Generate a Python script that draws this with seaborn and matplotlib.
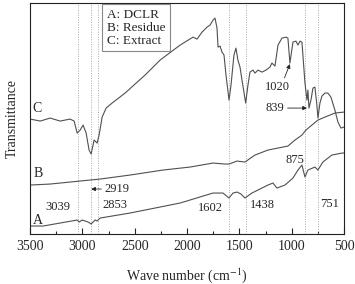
import matplotlib
matplotlib.use("Agg")
from matplotlib import pyplot as plt
import seaborn as sns
import pandas as pd

# curve C: extract
c_wn = [3500, 3404, 3309, 3213, 3118, 3080, 3051, 3022, 2994, 2965, 2937, 2917, 2889, 2860, 2841,
        2812, 2774, 2717, 2593, 2402, 2258, 2067, 1943, 1905, 1857, 1809, 1781, 1752, 1733, 1714,
        1704, 1685, 1666, 1647, 1628, 1599, 1580, 1552, 1533, 1514, 1494, 1475, 1440, 1418, 1399,
        1370, 1351, 1322, 1284, 1246, 1208, 1189, 1160, 1131, 1093, 1055, 1036, 1017, 988, 959,
        940, 921, 902, 873, 854, 845, 835, 816, 797, 778, 759, 749, 730, 711, 682, 654, 625, 587,
        558, 529, 500]
c_t = [115, 113, 116, 113, 115, 113, 101, 104, 109, 101, 84, 80, 94, 91, 99,
       117, 126, 131, 141, 159, 174, 189, 197, 195, 202, 207, 209, 214, 216, 206,
       187, 188, 182, 179, 159, 134, 149, 179, 186, 174, 167, 154, 131, 149, 162,
       164, 161, 164, 162, 164, 167, 171, 168, 189, 196, 197, 196, 171, 192, 193,
       189, 193, 192, 151, 134, 144, 126, 134, 146, 147, 129, 116, 131, 138, 141, 141, 137, 124,
       112, 106, 107]

# curve B: residue
b_wn = [3500, 3309, 2831, 2545, 2230, 1972, 1752, 1638, 1599, 1523, 1447, 1351, 1227, 1036,
        969, 902, 864, 807, 749, 682, 587, 500]
b_t = [49, 50, 55, 59, 64, 67, 71, 70, 70, 73, 72, 79, 84, 88,
       94, 99, 104, 109, 114, 117, 121, 122]

# curve A: DCLR
a_wn = [3500, 3376, 3213, 3051, 3032, 3003, 2946, 2917, 2879, 2860, 2831, 2545, 2067, 1752,
        1657, 1599, 1561, 1523, 1485, 1447, 1380, 1227, 1179, 1141, 1064, 988, 940, 902, 873,
        845, 778, 749, 702, 616, 520, 500]
a_t = [8, 8, 11, 14, 12, 14, 12, 10, 14, 13, 16, 21, 31, 41,
       41, 36, 41, 42, 40, 36, 41, 49, 51, 46, 49, 56, 64, 69, 57,
       64, 67, 64, 72, 79, 81, 81]

marked = [3039, 2919, 2853, 1602, 1438, 875, 751]

sns.set_style("ticks")
plt.rcParams['font.family'] = ['Liberation Serif', 'DejaVu Serif']
plt.rcParams['mathtext.fontset'] = 'stix'

fig, ax = plt.subplots(figsize=(3.55, 2.84), dpi=100)
fig.subplots_adjust(left=0.085, right=0.969, top=0.989, bottom=0.176)

for wn in marked:
    ax.axvline(wn, color='#aaaaaa', lw=0.7, ls=(0, (1, 1.5)), zorder=1)

col = '#505050'
sns.lineplot(x=c_wn, y=c_t, ax=ax, color=col, lw=0.8, sort=False)
sns.lineplot(x=b_wn, y=b_t, ax=ax, color=col, lw=0.8, sort=False)
sns.lineplot(x=a_wn, y=a_t, ax=ax, color=col, lw=0.8, sort=False)

ax.set_xlim(3500, 500)
ax.set_ylim(0, 231)
ax.set_xticks([3500, 3000, 2500, 2000, 1500, 1000, 500])
ax.set_xticks([3250, 2750, 2250, 1750, 1250, 750], minor=True)
ax.set_yticks([])
ax.tick_params(axis='x', direction='in', length=4, width=0.8, labelsize=10, pad=4)
ax.tick_params(axis='x', which='minor', direction='in', length=2.5, width=0.8)
for s in ax.spines.values():
    s.set_linewidth(0.8)
    s.set_color('#222222')

ax.set_xlabel("Wave number (cm$^{-1}$)", fontsize=10, labelpad=10)
ax.set_ylabel("Transmittance", fontsize=10, labelpad=8)

fs = 9
ax.text(3433, 126, "C", fontsize=10, ha='center', va='center')
ax.text(3424, 61, "B", fontsize=10, ha='center', va='center')
ax.text(3424, 14, "A", fontsize=10, ha='center', va='center')
ax.text(3233, 27, "3039", fontsize=fs, ha='center', va='center')
ax.text(2688, 29, "2853", fontsize=fs, ha='center', va='center')
ax.text(1781, 26, "1602", fontsize=fs, ha='center', va='center')
ax.text(1284, 29, "1438", fontsize=fs, ha='center', va='center')
ax.text(635, 30, "751", fontsize=fs, ha='center', va='center')
ax.text(969, 74, "875", fontsize=fs, ha='center', va='center')

arr = dict(arrowstyle='-|>', color='#222222', lw=0.6, mutation_scale=6, shrinkA=0, shrinkB=0)
ax.annotate("2919", xy=(2917, 45), xytext=(2669, 45), fontsize=fs, ha='center', va='center',
            arrowprops=dict(arr, relpos=(0, 0.5)))
ax.annotate("1020", xy=(1017, 170), xytext=(1141, 147), fontsize=fs, ha='center', va='center',
            arrowprops=dict(arr, relpos=(0.75, 1)))
ax.annotate("839", xy=(854, 126), xytext=(1160, 126), fontsize=fs, ha='center', va='center',
            arrowprops=dict(arr, relpos=(1, 0.5)))

ax.text(0.245, 0.975, "A: DCLR\nB: Residue\nC: Extract", transform=ax.transAxes,
        fontsize=9.5, va='top', ha='left', linespacing=1.1,
        bbox=dict(boxstyle='square,pad=0.35', fc='white', ec='#888888', lw=0.8))

plt.savefig("out.png", dpi=100)
